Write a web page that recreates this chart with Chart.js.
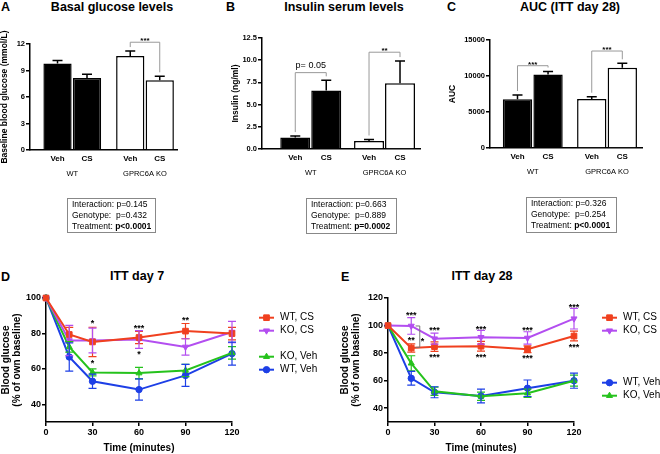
<!DOCTYPE html>
<html>
<head>
<meta charset="utf-8">
<title>Glucose, insulin and ITT</title>
<script src="https://cdn.jsdelivr.net/npm/chart.js@4.4.1/dist/chart.umd.min.js"></script>
<style>
  body { margin: 0; background: #fff; font-family: 'Liberation Sans', Arial, sans-serif; color: #000; }
  #fig { position: relative; width: 660px; height: 454px; overflow: hidden; }
  canvas { position: absolute; }
  .letter, .title { position: absolute; font-weight: bold; font-size: 12.5px; line-height: 14px; white-space: nowrap; }
  .title { transform: translateX(-50%); }
  .stats { position: absolute; box-sizing: border-box; border: 1px solid #888; padding: 0 0 0 4px; font-size: 8.5px; line-height: 11px; white-space: nowrap; }
</style>
</head>
<body>
<div id="fig">
  <div class="letter" style="left:1px;top:0">A</div>
  <div class="title" style="left:112px;top:0">Basal glucose levels</div>
  <div class="letter" style="left:226px;top:0">B</div>
  <div class="title" style="left:344px;top:0">Insulin serum levels</div>
  <div class="letter" style="left:447px;top:0">C</div>
  <div class="title" style="left:570px;top:0">AUC (ITT day 28)</div>
  <div class="letter" style="left:1px;top:270px">D</div>
  <div class="title" style="left:137px;top:269px">ITT day 7</div>
  <div class="letter" style="left:341px;top:270px">E</div>
  <div class="title" style="left:482px;top:269px">ITT day 28</div>

  <canvas id="chartGlucose" width="220" height="190" style="left:0;top:0"></canvas>
  <canvas id="chartInsulin" width="220" height="190" style="left:220px;top:0"></canvas>
  <canvas id="chartAuc" width="220" height="190" style="left:440px;top:0"></canvas>
  <canvas id="chartItt7" width="330" height="224" style="left:0;top:230px"></canvas>
  <canvas id="chartItt28" width="330" height="224" style="left:330px;top:230px"></canvas>

  <div class="stats" id="statsGlucose" style="left:67px;top:198px;width:89px;height:35px"></div>
  <div class="stats" id="statsInsulin" style="left:306px;top:198px;width:91px;height:36px"></div>
  <div class="stats" id="statsAuc" style="left:526px;top:197px;width:91px;height:36px"></div>
</div>

<script>
const FONT = "'Liberation Sans', Arial, sans-serif";
Chart.defaults.font.family = FONT;
Chart.defaults.color = '#000';

// ---- data ----
const genotypes = ['WT', 'GPRC6A KO'];
const treatments = ['Veh', 'CS'];

// A: basal glucose (mmol/L), mean / SEM per genotype
const glucoseVeh = [9.78, 10.64];
const glucoseVehSem = [0.34, 0.56];
const glucoseCs = [8.15, 7.89];
const glucoseCsSem = [0.42, 0.45];
const glucoseTicks = [0, 3, 6, 9, 12];
const glucoseBrackets = [{ group: 1, level: 12.2, label: '***' }];

// B: insulin (ng/ml)
const insulinVeh = [1.3, 0.9];
const insulinVehSem = [0.15, 0.17];
const insulinCs = [6.6, 7.4];
const insulinCsSem = [1.13, 2.5];
const insulinTicks = [0, 2.5, 5, 7.5, 10, 12.5];
const insulinBrackets = [{ group: 0, level: 8.6, label: 'p= 0.05' }, { group: 1, level: 10.9, label: '**' }];

// C: AUC of ITT day 28
const aucVeh = [6760, 6800];
const aucVehSem = [600, 320];
const aucCs = [10200, 11160];
const aucCsSem = [420, 600];
const aucTicks = [0, 5000, 10000, 15000];
const aucBrackets = [{ group: 0, level: 11430, label: '***' }, { group: 1, level: 13470, label: '***' }];

// two-way ANOVA boxes
const statsLabels = ['Interaction:', 'Genotype:\u00a0', 'Treatment:'];
const glucoseStats = ['p=0.145', 'p=0.432', 'p<0.0001'];
const insulinStats = ['p=0.663', 'p=0.889', 'p=0.0002'];
const aucStats = ['p=0.326', 'p=0.254', 'p<0.0001'];

// D/E: ITT, blood glucose in % of own baseline
const times = [0, 15, 30, 60, 90, 120];
const timeTicks = [0, 30, 60, 90, 120];
const itt7Ticks = [40, 60, 80, 100];
const itt28Ticks = [40, 60, 80, 100, 120];
const seriesNames = ['WT, CS', 'KO, CS', 'KO, Veh', 'WT, Veh'];

const d7WtCs = [100, 79.4, 75.2, 77.7, 81.3, 79.9];
const d7WtCsSem = [0, 4, 8.3, 3.5, 4.3, 3.5];
const d7KoCs = [100, 76, 76, 76.6, 72.4, 80.8];
const d7KoCsSem = [0, 8.5, 7, 5, 4.6, 6];
const d7KoVeh = [100, 72.4, 58, 57.6, 59.1, 69];
const d7KoVehSem = [0, 3, 2, 3.2, 3.5, 3.5];
const d7WtVeh = [100, 66.7, 53, 48.3, 56.3, 68.6];
const d7WtVehSem = [0, 8, 4, 6, 6.2, 6.5];

const d28WtCs = [100, 83.7, 84.7, 85, 82.8, 92.4];
const d28WtCsSem = [0, 3, 3.5, 3.5, 2.5, 3.5];
const d28KoCs = [100, 99.7, 90.5, 91.5, 91, 105];
const d28KoCsSem = [0, 6, 4, 5, 4.5, 7.5];
const d28KoVeh = [100, 72.6, 52.3, 48.7, 50.9, 60];
const d28KoVehSem = [0, 5.5, 3, 3, 3, 4];
const d28WtVeh = [100, 61.7, 51.6, 48.9, 54.5, 60];
const d28WtVehSem = [0, 5, 4, 5, 6, 5.5];

// significance marks [time, value, text]
const marks7 = [[30, 87, '*'], [30, 64.4, '*'], [60, 84, '***'], [60, 69.5, '*'], [90, 88.5, '**']];
const marks28 = [[15, 108.9, '***'], [30, 98, '***'], [60, 98.7, '***'], [90, 98.2, '***'], [120, 114.7, '***'],
  [30, 78.7, '***'], [60, 78.7, '***'], [90, 78.2, '***'], [120, 85.9, '***'], [15, 90.8, '**'], [22.2, 90, '*']];
const bracket28 = [17.8, 20.5, 99.7, 84.2];

// ---- stats boxes ----
function fillStats(id, values) {
  const box = document.getElementById(id);
  statsLabels.forEach((lab, i) => {
    const line = document.createElement('div');
    line.append(lab + ' ');
    const v = document.createElement(i === 2 ? 'b' : 'span');
    v.textContent = values[i];
    line.append(v);
    box.append(line);
  });
}
fillStats('statsGlucose', glucoseStats);
fillStats('statsInsulin', insulinStats);
fillStats('statsAuc', aucStats);

// ---- bar panels ----
const barDecor = {
  id: 'barDecor',
  afterDatasetsDraw(chart, args, opts) {
    const { ctx, chartArea: area, scales: { x, y } } = chart;
    ctx.save();
    ctx.fillStyle = '#000';
    ctx.textAlign = 'center';
    ctx.textBaseline = 'middle';
    const tops = [];
    chart.data.datasets.forEach((ds, k) => {
      tops[k] = [];
      chart.getDatasetMeta(k).data.forEach((bar, i) => {
        const yTop = y.getPixelForValue(ds.data[i].y + ds.sem[i]);
        tops[k][i] = { x: bar.x, y: yTop };
        ctx.strokeStyle = '#000';
        ctx.lineWidth = 1.5;
        ctx.beginPath();
        ctx.moveTo(bar.x, bar.y);
        ctx.lineTo(bar.x, yTop);
        ctx.moveTo(bar.x - 5, yTop);
        ctx.lineTo(bar.x + 5, yTop);
        ctx.stroke();
        ctx.font = `bold 8px ${FONT}`;
        ctx.fillText(ds.label, bar.x, area.bottom + 9);
      });
    });
    ctx.font = `7.5px ${FONT}`;
    genotypes.forEach((g, i) => ctx.fillText(g, x.getPixelForValue(i), area.bottom + 24));

    ctx.strokeStyle = '#999';
    ctx.lineWidth = 1;
    ctx.textBaseline = 'alphabetic';
    (opts.brackets || []).forEach(b => {
      const a = tops[0][b.group], c = tops[1][b.group];
      const yb = y.getPixelForValue(b.level);
      ctx.beginPath();
      ctx.moveTo(a.x, a.y - 4);
      ctx.lineTo(a.x, yb);
      ctx.lineTo(c.x, yb);
      ctx.lineTo(c.x, c.y - 4);
      ctx.stroke();
      const stars = /^\*+$/.test(b.label);
      ctx.font = stars ? `bold 8px ${FONT}` : `9px ${FONT}`;
      ctx.fillText(b.label, (a.x + c.x) / 2, stars ? yb + 1 : yb - 5);
    });
    ctx.restore();
  }
};

function barChart(id, means, sems, ticks, o) {
  return new Chart(document.getElementById(id), {
    type: 'bar',
    data: {
      datasets: treatments.map((t, k) => ({
        label: t,
        data: genotypes.map((g, i) => ({ x: i, y: means[k][i] })),
        sem: sems[k],
        backgroundColor: ['#000', '#fff'],
        borderColor: '#000',
        borderWidth: 1.5,
        categoryPercentage: o.catPct,
        barPercentage: o.barPct
      }))
    },
    options: {
      responsive: false,
      animation: false,
      devicePixelRatio: 1,
      layout: { padding: o.pad },
      plugins: {
        legend: { display: false },
        tooltip: { enabled: false },
        barDecor: { brackets: o.brackets }
      },
      scales: {
        x: {
          type: 'linear',
          offset: false,
          min: o.xMin,
          max: o.xMax,
          afterBuildTicks: s => { s.ticks = genotypes.map((g, i) => ({ value: i })); },
          grid: { display: false, offset: false },
          border: { color: '#000', width: 1.5 },
          ticks: { display: false },
          afterFit: s => { s.height = o.xHeight; }
        },
        y: {
          min: 0,
          max: ticks[ticks.length - 1],
          afterBuildTicks: s => { s.ticks = ticks.map(v => ({ value: v })); },
          grid: { drawOnChartArea: false, color: '#000', lineWidth: 1.5, tickLength: 4 },
          border: { color: '#000', width: 1.5 },
          ticks: { font: { size: 7.5, weight: 'bold' }, padding: 1, callback: o.tickFmt || (v => v) },
          title: {
            display: true,
            text: o.yTitle,
            font: { size: 8.5, weight: 'bold', lineHeight: 1.15 },
            padding: { top: o.titlePad, bottom: 0 }
          },
          afterFit: s => { s.width = o.yWidth; }
        }
      }
    },
    plugins: [barDecor]
  });
}

barChart('chartGlucose', [glucoseVeh, glucoseCs], [glucoseVehSem, glucoseCsSem], glucoseTicks, {
  pad: { left: 0, top: 44, right: 43, bottom: 0 }, yWidth: 30, xHeight: 40, titlePad: 0,
  xMin: -0.581, xMax: 1.44, catPct: 0.811, barPct: 0.958,
  yTitle: 'Baseline blood glucose (mmol/L)', brackets: glucoseBrackets
});
barChart('chartInsulin', [insulinVeh, insulinCs], [insulinVehSem, insulinCsSem], insulinTicks, {
  pad: { left: 0, top: 38, right: 20, bottom: 0 }, yWidth: 42, xHeight: 41, titlePad: 11,
  xMin: -0.661, xMax: 1.481, catPct: 0.84, barPct: 0.968,
  yTitle: 'Insulin (ng/ml)', brackets: insulinBrackets, tickFmt: v => v.toFixed(1)
});
barChart('chartAuc', [aucVeh, aucCs], [aucVehSem, aucCsSem], aucTicks, {
  pad: { left: 0, top: 40, right: 18, bottom: 0 }, yWidth: 50, xHeight: 42, titlePad: 8,
  xMin: -0.576, xMax: 1.471, catPct: 0.823, barPct: 0.96,
  yTitle: 'AUC', brackets: aucBrackets
});

// ---- ITT panels ----
const seriesStyle = {
  'WT, CS': { color: '#f0401f', pointStyle: 'rect', rotation: 0, radius: 4 },
  'KO, CS': { color: '#b34ef0', pointStyle: 'triangle', rotation: 180, radius: 3.5 },
  'KO, Veh': { color: '#25c21c', pointStyle: 'triangle', rotation: 0, radius: 3.5 },
  'WT, Veh': { color: '#1d3fe6', pointStyle: 'circle', rotation: 0, radius: 3.2 }
};

function ittSeries(name, means, sems) {
  const st = seriesStyle[name];
  return {
    label: name,
    data: times.map((t, i) => ({ x: t, y: means[i] })),
    sem: sems,
    borderColor: st.color,
    backgroundColor: st.color,
    pointStyle: st.pointStyle,
    pointRotation: st.rotation,
    pointRadius: st.radius,
    pointBorderWidth: 1,
    borderWidth: 2,
    tension: 0,
    clip: false
  };
}

const ittDecor = {
  id: 'ittDecor',
  afterDatasetsDraw(chart, args, opts) {
    const { ctx, scales: { x, y } } = chart;
    ctx.save();
    chart.data.datasets.forEach((ds, k) => {
      ctx.strokeStyle = ds.borderColor;
      ctx.lineWidth = 1.2;
      chart.getDatasetMeta(k).data.forEach((pt, i) => {
        const s = ds.sem[i];
        if (!s) return;
        const y1 = y.getPixelForValue(ds.data[i].y + s);
        const y2 = y.getPixelForValue(ds.data[i].y - s);
        ctx.beginPath();
        ctx.moveTo(pt.x, y1); ctx.lineTo(pt.x, y2);
        ctx.moveTo(pt.x - 4, y1); ctx.lineTo(pt.x + 4, y1);
        ctx.moveTo(pt.x - 4, y2); ctx.lineTo(pt.x + 4, y2);
        ctx.stroke();
      });
    });
    ctx.fillStyle = '#000';
    ctx.font = `bold 9px ${FONT}`;
    ctx.textAlign = 'center';
    ctx.textBaseline = 'alphabetic';
    (opts.marks || []).forEach(([t, v, s]) => ctx.fillText(s, x.getPixelForValue(t), y.getPixelForValue(v) + 5));
    if (opts.bracket) {
      const [t1, t2, v1, v2] = opts.bracket;
      ctx.strokeStyle = '#777';
      ctx.lineWidth = 1;
      ctx.beginPath();
      ctx.moveTo(x.getPixelForValue(t1), y.getPixelForValue(v1));
      ctx.lineTo(x.getPixelForValue(t2), y.getPixelForValue(v1));
      ctx.lineTo(x.getPixelForValue(t2), y.getPixelForValue(v2));
      ctx.lineTo(x.getPixelForValue(t1), y.getPixelForValue(v2));
      ctx.stroke();
    }
    ctx.restore();
  },
  afterDraw(chart, args, opts) {
    const L = opts.legend;
    if (!L) return;
    const ctx = chart.ctx;
    ctx.save();
    ctx.font = `10px ${FONT}`;
    ctx.textAlign = 'left';
    ctx.textBaseline = 'middle';
    L.order.forEach((idx, row) => {
      if (idx === null) return;
      const ds = chart.data.datasets[idx];
      const yy = L.y + row * L.rowHeight;
      ctx.strokeStyle = ds.borderColor;
      ctx.fillStyle = ds.borderColor;
      ctx.lineWidth = 2;
      ctx.beginPath();
      ctx.moveTo(L.x, yy);
      ctx.lineTo(L.x + 15, yy);
      ctx.stroke();
      ctx.lineWidth = 1;
      Chart.helpers.drawPoint(ctx, { pointStyle: ds.pointStyle, rotation: ds.pointRotation, radius: ds.pointRadius, borderWidth: 1 }, L.x + 7.5, yy);
      ctx.fillStyle = '#000';
      ctx.fillText(ds.label, L.x + 21, yy);
    });
    ctx.restore();
  }
};

function ittChart(id, datasets, yTicks, o) {
  return new Chart(document.getElementById(id), {
    type: 'line',
    data: { datasets },
    options: {
      responsive: false,
      animation: false,
      devicePixelRatio: 1,
      layout: { padding: o.pad },
      plugins: {
        legend: { display: false },
        tooltip: { enabled: false },
        ittDecor: { marks: o.marks, bracket: o.bracket, legend: o.legend }
      },
      scales: {
        x: {
          type: 'linear',
          min: timeTicks[0],
          max: timeTicks[timeTicks.length - 1],
          afterBuildTicks: s => { s.ticks = timeTicks.map(v => ({ value: v })); },
          grid: { drawOnChartArea: false, color: '#000', lineWidth: 1.5, tickLength: 4 },
          border: { color: '#000', width: 1.5 },
          ticks: { font: { size: 9, weight: 'bold' }, padding: 1, maxRotation: 0 },
          title: { display: true, text: 'Time (minutes)', font: { size: 10, weight: 'bold', lineHeight: 1.15 }, padding: 0 },
          afterFit: s => { s.height = 32; }
        },
        y: {
          min: 30,
          max: yTicks[yTicks.length - 1],
          afterBuildTicks: s => { s.ticks = yTicks.map(v => ({ value: v })); },
          grid: { drawOnChartArea: false, color: '#000', lineWidth: 1.5, tickLength: 4 },
          border: { color: '#000', width: 1.5 },
          ticks: { font: { size: 9, weight: 'bold' }, padding: 1 },
          title: {
            display: true,
            text: ['Blood glucose', '(% of own baseline)'],
            font: { size: 10, weight: 'bold', lineHeight: 1.15 },
            padding: { top: o.titlePad, bottom: 0 }
          },
          afterFit: s => { s.width = o.yWidth; }
        }
      }
    },
    plugins: [ittDecor]
  });
}

ittChart('chartItt7', [
  ittSeries(seriesNames[0], d7WtCs, d7WtCsSem),
  ittSeries(seriesNames[1], d7KoCs, d7KoCsSem),
  ittSeries(seriesNames[2], d7KoVeh, d7KoVehSem),
  ittSeries(seriesNames[3], d7WtVeh, d7WtVehSem)
], itt7Ticks, {
  pad: { left: 0, top: 68, right: 98, bottom: 0 }, yWidth: 46, titlePad: 0,
  marks: marks7,
  legend: { x: 259, y: 87.7, rowHeight: 13, order: [0, 1, null, 2, 3] }
});

ittChart('chartItt28', [
  ittSeries(seriesNames[0], d28WtCs, d28WtCsSem),
  ittSeries(seriesNames[1], d28KoCs, d28KoCsSem),
  ittSeries(seriesNames[2], d28KoVeh, d28KoVehSem),
  ittSeries(seriesNames[3], d28WtVeh, d28WtVehSem)
], itt28Ticks, {
  pad: { left: 0, top: 68, right: 86, bottom: 0 }, yWidth: 58, titlePad: 9,
  marks: marks28, bracket: bracket28,
  legend: { x: 272, y: 87.7, rowHeight: 13, order: [0, 1, null, null, null, 3, 2] }
});
</script>
</body>
</html>
